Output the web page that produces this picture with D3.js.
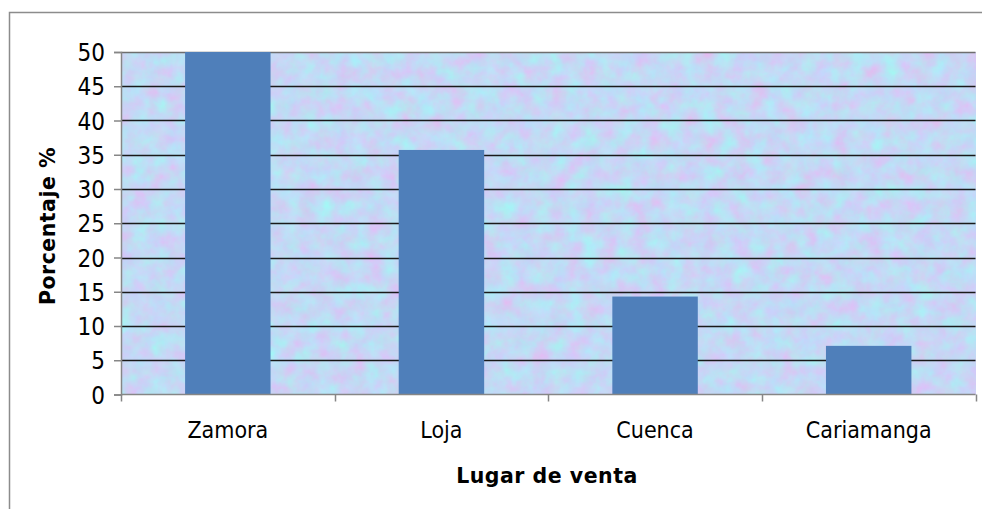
<!DOCTYPE html>
<html>
<head>
<meta charset="utf-8">
<script src="https://cdn.jsdelivr.net/npm/d3@7"></script>
<style>
  body { margin: 0; background: #fff; }
  svg { display: block; }
  .tick-label { font-family: "DejaVu Sans Condensed", "DejaVu Sans", sans-serif; font-stretch: condensed; fill: #000; }
  .axis-title { font-family: "DejaVu Sans", sans-serif; font-weight: bold; fill: #000; }
</style>
</head>
<body>
<svg id="chart"></svg>
<script>
const categories = ['Zamora', 'Loja', 'Cuenca', 'Cariamanga'];
const values = [50, 35.7, 14.3, 7.1];
const yTicks = [0, 5, 10, 15, 20, 25, 30, 35, 40, 45, 50];
const xTitle = 'Lugar de venta';
const yTitle = 'Porcentaje %';

const width = 982;
const height = 509;
const plot = { left: 121, top: 52, right: 975.5, bottom: 394.5 };

const svg = d3.select('#chart')
  .attr('width', width)
  .attr('height', height);

// textured fill for the plot area
const defs = svg.append('defs');
const filter = defs.append('filter')
  .attr('id', 'paper')
  .attr('x', 0).attr('y', 0).attr('width', 1).attr('height', 1)
  .attr('color-interpolation-filters', 'sRGB');
filter.append('feTurbulence')
  .attr('type', 'fractalNoise')
  .attr('baseFrequency', 0.06)
  .attr('numOctaves', 4)
  .attr('seed', 7)
  .attr('result', 'noise');
filter.append('feColorMatrix')
  .attr('in', 'noise')
  .attr('type', 'matrix')
  .attr('values', [
    '0.18 -0.18 0 0 0.765',
    '-0.12 0.2 0 0 0.81',
    '0 0 0.06 0 0.93',
    '0 0 0 0 1'
  ].join(' '));

// outer frame
svg.append('rect')
  .attr('x', 9.5)
  .attr('y', 12.5)
  .attr('width', 1000)
  .attr('height', 600)
  .attr('fill', 'none')
  .attr('stroke', '#8c8c8c')
  .attr('stroke-width', 1.5);

const x = d3.scaleBand()
  .domain(categories)
  .range([plot.left, plot.right])
  .paddingInner(0.6)
  .paddingOuter(0.3);

const xBand = d3.scaleBand()
  .domain(categories)
  .range([plot.left, plot.right]);

const y = d3.scaleLinear()
  .domain([0, 50])
  .range([plot.bottom, plot.top]);

svg.append('rect')
  .attr('x', plot.left)
  .attr('y', plot.top)
  .attr('width', plot.right - plot.left)
  .attr('height', plot.bottom - plot.top)
  .attr('filter', 'url(#paper)');

// gridlines
svg.append('g')
  .selectAll('line')
  .data(yTicks.filter(d => d > 0))
  .enter()
  .append('line')
    .attr('x1', plot.left)
    .attr('x2', plot.right)
    .attr('y1', d => Math.round(y(d)) + 0.5)
    .attr('y2', d => Math.round(y(d)) + 0.5)
    .attr('stroke', d => (d === 50 ? '#6e6e6e' : '#1a1a1a'))
    .attr('stroke-width', 1.5);

// bars
svg.append('g')
  .selectAll('rect')
  .data(values)
  .enter()
  .append('rect')
    .attr('x', (d, i) => x(categories[i]))
    .attr('y', d => y(d))
    .attr('width', x.bandwidth())
    .attr('height', d => plot.bottom - y(d))
    .attr('fill', '#4f7fba');

// y axis
const yAxis = svg.append('g')
  .attr('transform', `translate(${plot.left},0)`)
  .call(d3.axisLeft(y).tickValues(yTicks).tickSize(7).tickPadding(9));
yAxis.select('.domain').attr('stroke', '#868686').attr('stroke-width', 1.5);
yAxis.selectAll('.tick line').attr('stroke', '#868686').attr('stroke-width', 1.5);
yAxis.selectAll('.tick text')
  .attr('class', 'tick-label')
  .style('font-size', '24px')
  .attr('dy', '0.36em');

// x axis: ticks sit on category boundaries
const xAxis = svg.append('g')
  .attr('transform', `translate(0,${plot.bottom})`);
xAxis.append('line')
  .attr('x1', plot.left)
  .attr('x2', plot.right)
  .attr('stroke', '#868686')
  .attr('stroke-width', 1.5);
const bounds = categories.map(c => xBand(c)).concat([plot.right]);
xAxis.selectAll('.xtick')
  .data(bounds)
  .enter()
  .append('line')
    .attr('class', 'xtick')
    .attr('x1', d => Math.round(d) + 0.5)
    .attr('x2', d => Math.round(d) + 0.5)
    .attr('y1', 0)
    .attr('y2', 7)
    .attr('stroke', '#868686')
    .attr('stroke-width', 1.5);
xAxis.selectAll('.xlabel')
  .data(categories)
  .enter()
  .append('text')
    .attr('class', 'tick-label')
    .attr('x', d => xBand(d) + xBand.bandwidth() / 2)
    .attr('y', 43)
    .attr('text-anchor', 'middle')
    .style('font-size', '23px')
    .text(d => d);

// axis titles
svg.append('text')
  .attr('class', 'axis-title')
  .attr('x', 547)
  .attr('y', 483)
  .attr('text-anchor', 'middle')
  .style('font-size', '20.5px')
  .style('letter-spacing', '0.5px')
  .text(xTitle);

svg.append('text')
  .attr('class', 'axis-title')
  .attr('transform', 'translate(55,226) rotate(-90)')
  .attr('text-anchor', 'middle')
  .style('font-size', '20.5px')
  .style('letter-spacing', '0.5px')
  .text(yTitle);
</script>
</body>
</html>
